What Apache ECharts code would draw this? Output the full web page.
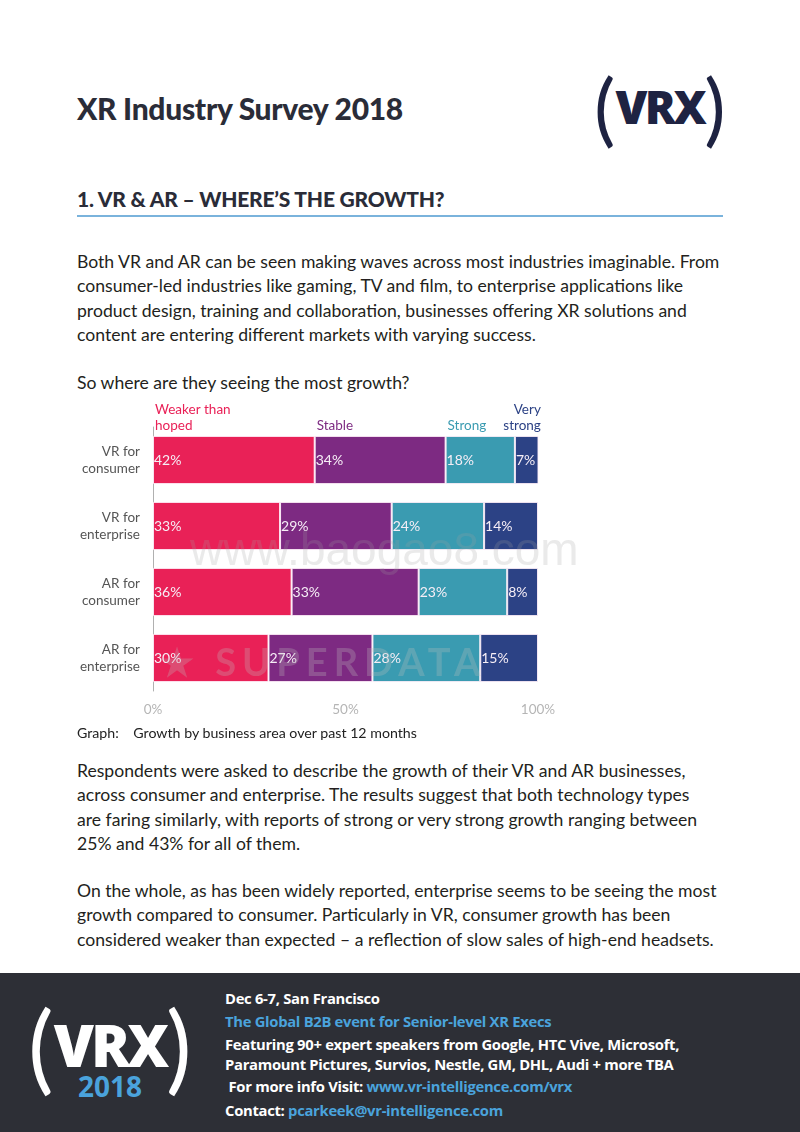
<!DOCTYPE html>
<html><head><meta charset="utf-8">
<script src="https://cdn.jsdelivr.net/npm/echarts@6/dist/echarts.min.js"></script>
<style>
html,body{margin:0;padding:0;width:800px;height:1132px;background:#fff;overflow:hidden;font-family:Lato,"Open Sans",sans-serif;color:#231f20;}
.abs{position:absolute;}
#title{left:77px;top:90px;font-size:30px;font-weight:900;color:#2a2c38;letter-spacing:-0.3px;}
#logo{left:594px;top:58px;color:#1e2342;white-space:nowrap;}
#h1{left:77px;top:186px;font-size:21px;font-weight:900;color:#2a2c38;letter-spacing:-0.2px;}
#rule{left:77px;top:215px;width:646px;height:2px;background:#7ab3dc;}
.body{left:77px;font-size:17.6px;line-height:24.3px;color:#231f20;white-space:nowrap;letter-spacing:0px;}
#chart{left:0;top:390px;width:800px;height:340px;}
#cap{left:77px;top:724px;font-size:14.2px;color:#222;}
#footer{left:0;top:973px;width:800px;height:159px;background:#2d2f36;}
.ft{left:225px;font-family:"Open Sans",sans-serif;font-weight:700;font-size:14.8px;color:#fff;white-space:nowrap;letter-spacing:-0.3px;}
.blue{color:#4aa3dc;}
.wm{color:rgba(160,160,160,0.22);white-space:nowrap;}
</style></head><body>
<div id="title" class="abs">XR Industry Survey 2018</div>
<div id="logo" class="abs"><span style="font-size:80px;font-weight:400;vertical-align:middle;">(</span><span style="font-family:'Open Sans';font-size:46px;font-weight:800;letter-spacing:-2.5px;vertical-align:middle;">VRX</span><span style="font-size:80px;font-weight:400;vertical-align:middle;">)</span></div>
<div id="h1" class="abs">1. VR &amp; AR – WHERE’S THE GROWTH?</div>
<div id="rule" class="abs"></div>
<div class="abs body" style="top:250px;">Both VR and AR can be seen making waves across most industries imaginable. From<br>consumer-led industries like gaming, TV and film, to enterprise applications like<br>product design, training and collaboration, businesses offering XR solutions and<br>content are entering different markets with varying success.</div>
<div class="abs body" style="top:371px;">So where are they seeing the most growth?</div>
<div id="chart" class="abs"></div>
<div class="abs wm" style="left:190px;top:522px;font-size:46px;font-family:'Liberation Sans',sans-serif;">www.baogao8.com</div>
<div class="abs wm" style="left:160px;top:638px;font-size:38px;font-weight:700;letter-spacing:6px;color:rgba(190,190,190,0.28);">★ SUPERDATA</div>
<div id="cap" class="abs">Graph:&nbsp;&nbsp;&nbsp;&nbsp;Growth by business area over past 12 months</div>
<div class="abs body" style="top:759px;">Respondents were asked to describe the growth of their VR and AR businesses,<br>across consumer and enterprise. The results suggest that both technology types<br>are faring similarly, with reports of strong or very strong growth ranging between<br>25% and 43% for all of them.</div>
<div class="abs body" style="top:879px;">On the whole, as has been widely reported, enterprise seems to be seeing the most<br>growth compared to consumer. Particularly in VR, consumer growth has been<br>considered weaker than expected – a reflection of slow sales of high-end headsets.</div>
<div id="footer" class="abs">
  <div class="abs" style="left:28px;top:14px;color:#fff;white-space:nowrap;"><span style="font-size:96px;font-weight:400;vertical-align:middle;">(</span><span style="font-family:'Open Sans';font-size:58px;font-weight:800;letter-spacing:-3px;vertical-align:middle;">VRX</span><span style="font-size:96px;font-weight:400;vertical-align:middle;">)</span></div>
  <div class="abs" style="left:78px;top:94px;font-family:'Open Sans';font-size:28px;font-weight:700;color:#4aa3dc;">2018</div>
</div>
<div class="abs ft" style="top:988px;">Dec 6-7, San Francisco</div>
<div class="abs ft blue" style="top:1011px;">The Global B2B event for Senior-level XR Execs</div>
<div class="abs ft" style="top:1034px;">Featuring 90+ expert speakers from Google, HTC Vive, Microsoft,</div>
<div class="abs ft" style="top:1054px;">Paramount Pictures, Survios, Nestle, GM, DHL, Audi + more TBA</div>
<div class="abs ft" style="top:1076px;">&nbsp;For more info Visit: <span class="blue">www.vr-intelligence.com/vrx</span></div>
<div class="abs ft" style="top:1100px;">Contact: <span class="blue">pcarkeek@vr-intelligence.com</span></div>
<script>
const categories = ["VR for\nconsumer", "VR for\nenterprise", "AR for\nconsumer", "AR for\nenterprise"];
const seriesNames = ["Weaker than\nhoped", "Stable", "Strong", "Very\nstrong"];
const weaker = [42, 33, 36, 30];
const stable = [34, 29, 33, 27];
const strong = [18, 24, 23, 28];
const veryStrong = [7, 14, 8, 15];
const xTicks = ["0%", "50%", "100%"];
const colors = ["#e92157", "#7d2a82", "#3a9bb1", "#2c4285"];

const values = [weaker, stable, strong, veryStrong];
const chart = echarts.init(document.getElementById('chart'), null, {renderer:'canvas'});
const series = values.map((v, i) => ({
  name: seriesNames[i],
  type: 'bar',
  stack: 'total',
  data: v,
  barCategoryGap: '27%',
  itemStyle: {color: colors[i], borderColor: 'rgba(255,240,250,0.9)', borderWidth: 1},
  label: {show: true, position: 'insideLeft', distance: 1, formatter: '{c}%', color: '#f6eef6', fontSize: 14, fontFamily: 'Lato'}
}));
chart.setOption({
  animation: false,
  grid: {left: 153, right: 262, top: 37, bottom: 39},
  xAxis: {
    type: 'value', min: 0, max: 100, interval: 50,
    axisLine: {show: false}, axisTick: {show: false}, splitLine: {show: false},
    axisLabel: {color: '#b5b5b5', fontSize: 13.5, fontFamily: 'Lato', margin: 12,
      formatter: v => xTicks[v / 50]}
  },
  yAxis: {
    type: 'category', data: categories, inverse: true,
    axisLine: {show: true, lineStyle: {color: '#b0b0b0', width: 1}},
    axisTick: {show: false},
    axisLabel: {color: '#555', fontSize: 13.5, fontFamily: 'Lato', lineHeight: 17, margin: 13, align: 'right'}
  },
  series: series
});
// series name labels above the first bar, positioned through the chart's scales
const gr = [];
let cum = 0;
const c0 = chart.convertToPixel({xAxisIndex: 0, yAxisIndex: 0}, [0, 0])[1];
const c1 = chart.convertToPixel({xAxisIndex: 0, yAxisIndex: 0}, [0, 1])[1];
const band = Math.abs(c1 - c0);
const barTop = c0 - band * 0.73 / 2;
values.forEach((v, i) => {
  const start = cum; cum += v[0];
  const last = i === values.length - 1;
  const px = chart.convertToPixel({xAxisIndex: 0, yAxisIndex: 0}, [last ? cum : start, 0])[0];
  gr.push({type: 'text', z: 100, x: px + (last ? -1 : 2), y: barTop - 2,
    style: {text: seriesNames[i], fill: colors[i], font: '13.5px Lato', textAlign: last ? 'right' : 'left', textVerticalAlign: 'bottom', lineHeight: 16}});
});
chart.setOption({graphic: gr});
</script>
</body></html>
